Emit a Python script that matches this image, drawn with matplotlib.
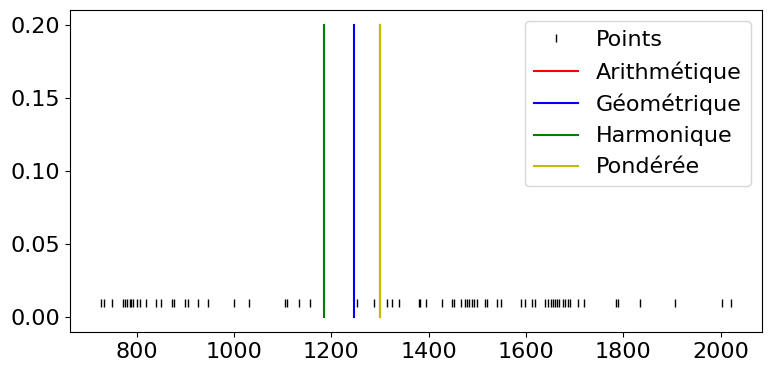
import matplotlib
matplotlib.use("Agg")
import matplotlib.pyplot as plt
import numpy as np

points = [728, 733, 749, 772, 776, 781, 786, 789, 792, 801, 807, 820, 839, 851,
          872, 876, 900, 905, 926, 947, 1001, 1030, 1105, 1110, 1134, 1156,
          1253, 1288, 1315, 1324, 1339, 1380, 1383, 1394, 1427, 1448, 1452,
          1467, 1474, 1479, 1483, 1490, 1494, 1499, 1515, 1519, 1540, 1548,
          1590, 1597, 1613, 1618, 1638, 1645, 1652, 1656, 1659, 1663, 1668,
          1675, 1681, 1687, 1691, 1706, 1720, 1785, 1788, 1835, 1905, 2003, 2020]
point_y = 0.01

mean_names = ["Arithmétique", "Géométrique", "Harmonique", "Pondérée"]
mean_values = [1301, 1246, 1186, 1301]
mean_colors = ["r", "b", "g", "y"]
line_top = 0.2

plt.rcParams['font.size'] = 16
fig = plt.figure(figsize=(7.72, 3.72), dpi=100)
ax = fig.add_axes([0.0907, 0.1075, 0.8963, 0.8655])

ax.plot(points, [point_y] * len(points), '|', color='k', label='Points')
for name, val, col in zip(mean_names, mean_values, mean_colors):
    ax.plot([val, val], [0, line_top], color=col, label=name)

ax.set_xticks([800, 1000, 1200, 1400, 1600, 1800, 2000])
ax.legend(loc='upper right')
fig.savefig("out.png", dpi=100)
